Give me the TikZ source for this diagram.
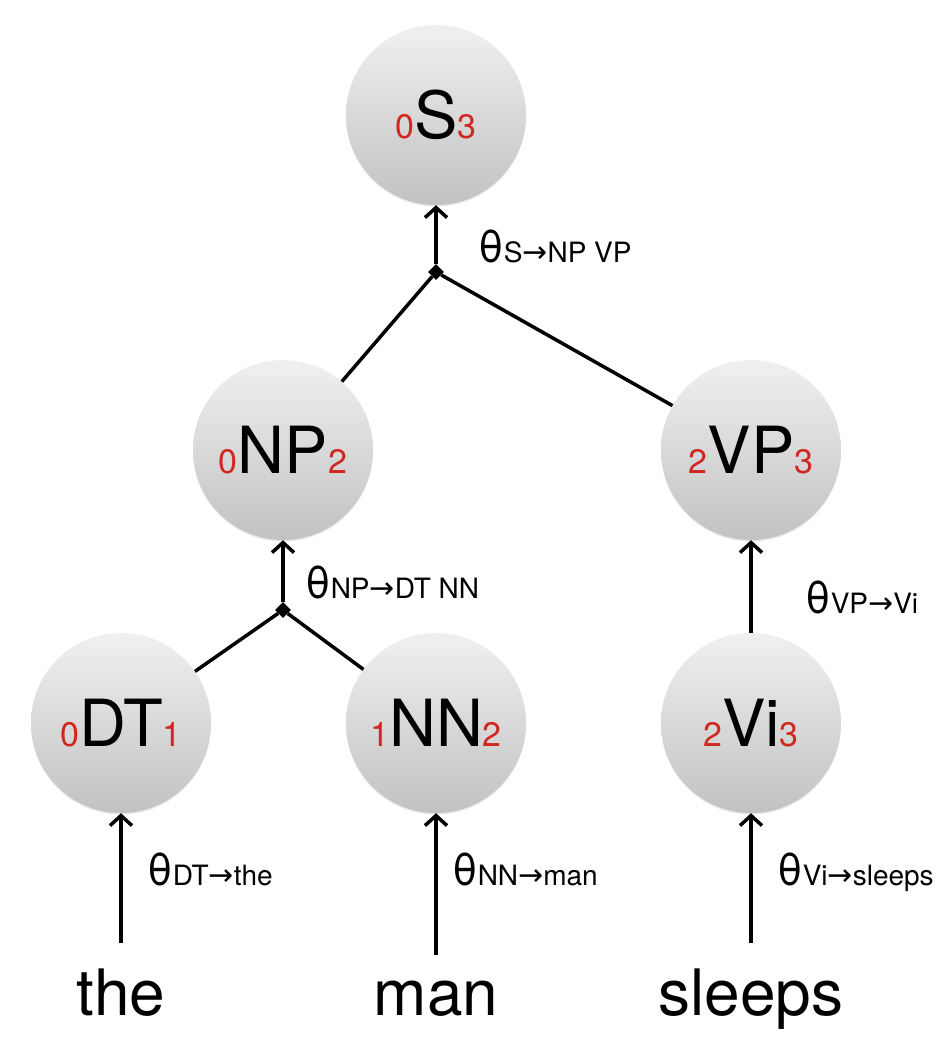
\documentclass[tikz,border=0pt]{standalone}
\usepackage{fontspec}
\setmainfont{TeX Gyre Heros}
\newfontfamily\arrowfont{DejaVu Sans}
\usetikzlibrary{arrows.meta,shapes.geometric,shadows}

\definecolor{spanred}{RGB}{208,40,32}
\definecolor{circtop}{RGB}{240,240,240}
\definecolor{circbot}{RGB}{194,194,194}

% span indices and rule weights
\newcommand\idx[1]{{\fontsize{34}{34}\selectfont\color{spanred}#1}}
\newcommand\rulesub[2]{{\fontsize{28}{28}\selectfont #1{\arrowfont\fontsize{30}{30}\selectfont →}#2}}

\tikzset{
  cnode/.style={circle, minimum size=180pt, inner sep=0pt,
    top color=circtop, bottom color=circbot,
    drop shadow={opacity=0.18, shadow xshift=0pt, shadow yshift=-1.5pt},
    font=\fontsize{65}{65}\selectfont},
  joint/.style={diamond, fill=black, inner sep=0pt, minimum size=16pt},
  word/.style={anchor=base, inner sep=0pt, font=\fontsize{64}{64}\selectfont},
  edge/.style={line width=3.5pt},
  arr/.style={edge, -{Straight Barb[length=10pt,width=22pt]}},
  lbl/.style={anchor=base west, inner sep=0pt, font=\fontsize{44}{44}\selectfont}
}

\begin{document}
\begin{tikzpicture}[x=1pt, y=-1pt]
  \useasboundingbox (0,0) rectangle (942,1044);

  % Constituents
  \node[cnode] (S)  at (436,115) {\idx{0}S\idx{3}};
  \node[cnode] (NP) at (283,450) {\idx{0}NP\idx{2}};
  \node[cnode] (VP) at (751,450) {\idx{2}VP\idx{3}};
  \node[cnode] (DT) at (121,723) {\idx{0}DT\idx{1}};
  \node[cnode] (NN) at (436,723) {\idx{1}NN\idx{2}};
  \node[cnode] (Vi) at (751,723) {\idx{2}Vi\idx{3}};

  % Words
  \node[word] (wThe)    at (121,1015) {the};
  \node[word] (wMan)    at (436,1015) {man};
  \node[word] (wSleeps) at (751,1015) {sleeps};

  % Rule joints
  \node[joint] (jS)  at (436,272) {};
  \node[joint] (jNP) at (283,610) {};

  % Edges
  \draw[arr] (jS) -- (S);
  \draw[edge] (jS) -- (NP);
  \draw[edge] (jS) -- (VP);
  \draw[arr] (jNP) -- (NP);
  \draw[edge] (jNP) -- (DT);
  \draw[edge] (jNP) -- (NN);
  \draw[arr] (Vi) -- (VP);
  \foreach \w/\t in {wThe/DT, wMan/NN, wSleeps/Vi}
    \draw[arr, shorten <=25pt] (\w.north) -- (\t);

  % Weights
  \node[lbl] (tS)  at (478,262) {θ\rulesub{S}{NP VP}};
  \node[lbl] (tNP) at (305,598) {θ\rulesub{NP}{DT NN}};
  \node[lbl] (tVP) at (805,613) {θ\rulesub{VP}{Vi}};
  \node[lbl] (tDT) at (147,885) {θ\rulesub{DT}{the}};
  \node[lbl] (tNN) at (452,885) {θ\rulesub{NN}{man}};
  \node[lbl] (tVi) at (777,885) {θ\rulesub{Vi}{sleeps}};
\end{tikzpicture}
\end{document}
